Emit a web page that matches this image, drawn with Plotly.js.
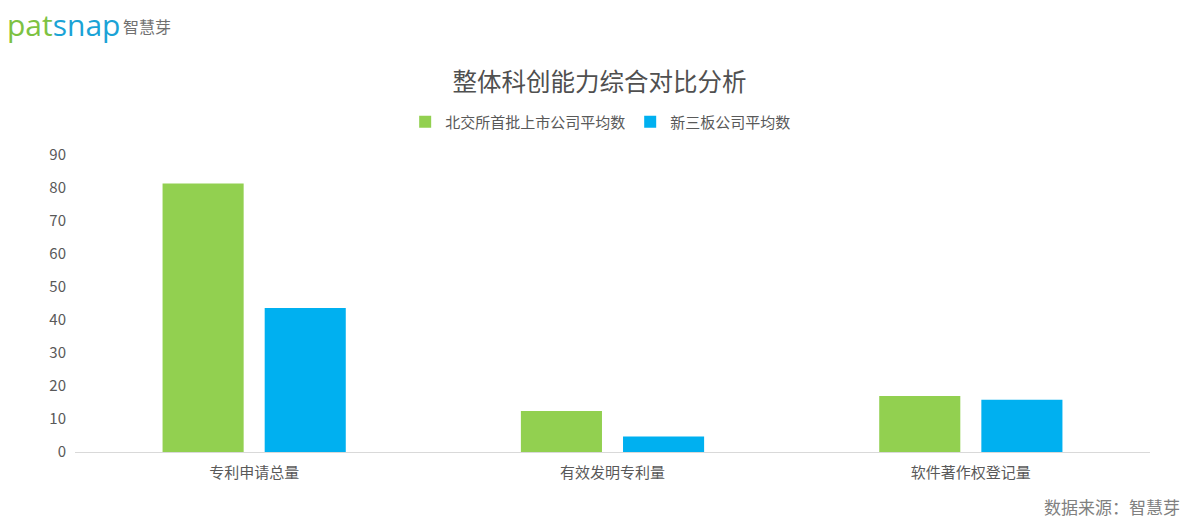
<!DOCTYPE html>
<html>
<head>
<meta charset="utf-8">
<script src="https://cdn.plot.ly/plotly-3.0.1.min.js"></script>
<style>html,body{margin:0;padding:0;background:#fff;}#chart{width:1190px;height:527px;}</style>
</head>
<body>
<div id="chart"></div>
<script>
var categories = ["专利申请总量", "有效发明专利量", "软件著作权登记量"];
var seriesNames = ["北交所首批上市公司平均数", "新三板公司平均数"];
var bjsValues = [81.4, 12.4, 17.0];
var xsbValues = [43.6, 4.7, 15.8];
var yTicks = [0, 10, 20, 30, 40, 50, 60, 70, 80, 90];

var font = "'Noto Sans CJK SC', 'Noto Sans', sans-serif";
var traces = [
  {type: "bar", name: seriesNames[0], x: categories, y: bjsValues, marker: {color: "#92d050"}, hoverinfo: "y"},
  {type: "bar", name: seriesNames[1], x: categories, y: xsbValues, marker: {color: "#00b0f0"}, hoverinfo: "y"}
];
var layout = {
  width: 1190, height: 527,
  margin: {l: 75, r: 40, t: 155, b: 75},
  paper_bgcolor: "#fff", plot_bgcolor: "#fff",
  font: {family: font, color: "#595959", size: 15},
  title: {text: "整体科创能力综合对比分析", x: 0.488, xanchor: "center", y: 0.844, yanchor: "middle",
          xref: "paper", font: {size: 24.5, color: "#505050", family: font}},
  barmode: "group", bargap: 0.43, bargroupgap: 0.206,
  showlegend: true,
  legend: {orientation: "h", x: 0.489, xanchor: "center", y: 1.111, yanchor: "middle",
           font: {size: 15, color: "#595959"}, itemwidth: 30, traceorder: "normal"},
  xaxis: {type: "category", showgrid: false, showline: true, linecolor: "#d9d9d9", linewidth: 1,
          ticks: "", ticklabelstandoff: 7, tickfont: {size: 15, color: "#595959"}, zeroline: false},
  yaxis: {range: [0, 90], tickvals: yTicks, showgrid: false, zeroline: false, showline: false,
          ticks: "", ticklabelstandoff: 8, tickfont: {size: 15, color: "#595959"}},
  annotations: [
    {xref: "paper", yref: "paper", x: -0.065, y: 1.438, xanchor: "left", yanchor: "middle", showarrow: false,
     text: "<span style='color:#7dc242'>pat</span><span style='color:#1aa3d6'>snap</span>",
     font: {size: 30, family: "'Open Sans', 'DejaVu Sans', sans-serif"}},
    {xref: "paper", yref: "paper", x: 0.043, y: 1.435, xanchor: "left", yanchor: "middle", showarrow: false,
     text: "智慧芽", font: {size: 16, color: "#707070", family: font}},
    {xref: "paper", yref: "paper", x: 1.03, y: -0.185, xanchor: "right", yanchor: "middle", showarrow: false,
     text: "数据来源：智慧芽", font: {size: 17, color: "#808080", family: font}}
  ]
};
Plotly.newPlot("chart", traces, layout, {displayModeBar: false, staticPlot: true});
</script>
</body>
</html>
